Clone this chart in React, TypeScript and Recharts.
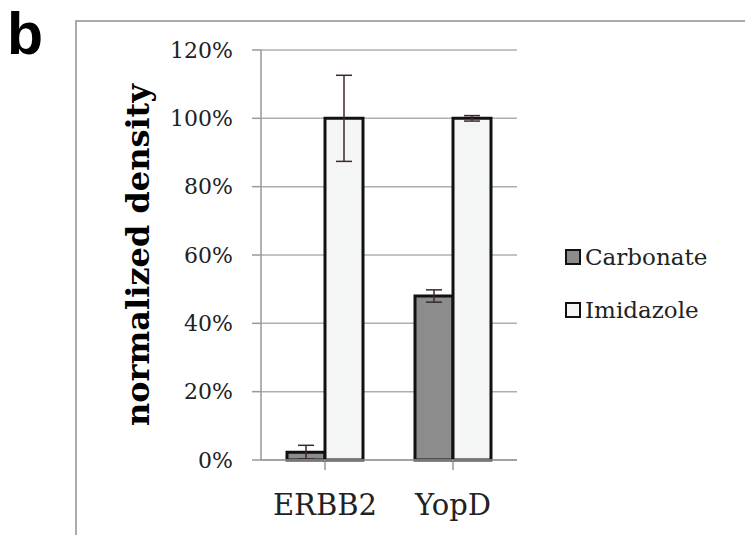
import React from 'react';
import { BarChart, Bar, XAxis, YAxis, CartesianGrid, ErrorBar } from 'recharts';

const categories = ['ERBB2', 'YopD'];
const carbonate = [2.3, 48];
const carbonateErr = [2, 1.8];
const imidazole = [100, 100];
const imidazoleErr = [12.6, 0.8];
const yTicks = [0, 20, 40, 60, 80, 100, 120];

const data = categories.map((name, i) => ({
  name,
  carbonate: carbonate[i],
  carbonateErr: carbonateErr[i],
  imidazole: imidazole[i],
  imidazoleErr: imidazoleErr[i],
}));

const serif = '"DejaVu Serif", serif';

function LegendBox() {
  const items = [
    { label: 'Carbonate', fill: '#8c8c8c' },
    { label: 'Imidazole', fill: '#f4f5f5' },
  ];
  return (
    <div style={{ position: 'absolute', left: 565, top: 230, fontFamily: serif, fontSize: 23, color: '#222' }}>
      {items.map((it) => (
        <div key={it.label} style={{ display: 'flex', alignItems: 'center', height: 53 }}>
          <span
            style={{
              display: 'inline-block',
              width: 12,
              height: 12,
              background: it.fill,
              border: '2.5px solid #111',
              marginRight: 4,
            }}
          />
          {it.label}
        </div>
      ))}
    </div>
  );
}

export default function App() {
  return (
    <div style={{ position: 'absolute', left: 0, top: 0, width: 745, height: 535, background: '#fff', overflow: 'hidden' }}>
      <div style={{ position: 'absolute', left: 75, top: 20, width: 700, height: 560, borderLeft: '2px solid #aaa', borderTop: '2px solid #aaa' }} />
      <div style={{ position: 'absolute', left: 7, top: 0, fontFamily: '"Liberation Sans", Arial, sans-serif', fontWeight: 'bold', fontSize: 59 }}>b</div>
      <BarChart
        width={745}
        height={535}
        data={data}
        margin={{ top: 50, right: 228, bottom: 35, left: 181 }}
        barCategoryGap={26}
        barGap={0}
      >
        <CartesianGrid vertical={false} stroke="#aab0b2" strokeWidth={1.5} />
        <XAxis
          dataKey="name"
          height={40}
          stroke="#999"
          strokeWidth={1.5}
          tickSize={10}
          tickMargin={24}
          tick={{ fontFamily: serif, fontSize: 29, fill: '#222' }}
          interval={0}
        />
        <YAxis
          width={80}
          domain={[0, 120]}
          ticks={yTicks}
          stroke="#999"
          strokeWidth={1.5}
          tickSize={9}
          tickMargin={19}
          tickFormatter={(v) => `${v}%`}
          tick={{ fontFamily: serif, fontSize: 22, fill: '#222' }}
          label={{
            value: 'normalized density',
            angle: -90,
            position: 'insideLeft',
            offset: 0,
            dx: -43,
            style: { fontFamily: serif, fontWeight: 'bold', fontSize: 32, fill: '#000', textAnchor: 'middle' },
          }}
        />
        <Bar dataKey="carbonate" fill="#8c8c8c" stroke="#111" strokeWidth={3} isAnimationActive={false}>
          <ErrorBar dataKey="carbonateErr" width={8} stroke="#3a2a2a" strokeWidth={1.5} />
        </Bar>
        <Bar dataKey="imidazole" fill="#f4f5f5" stroke="#111" strokeWidth={3} isAnimationActive={false}>
          <ErrorBar dataKey="imidazoleErr" width={8} stroke="#3a2a2a" strokeWidth={1.5} />
        </Bar>
      </BarChart>
      <LegendBox />
    </div>
  );
}
